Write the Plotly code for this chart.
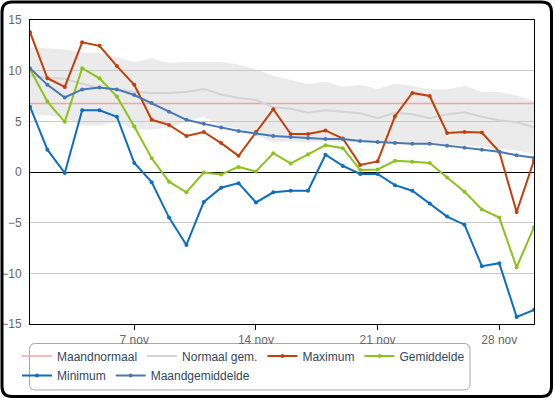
import plotly.graph_objects as go

# ---------------- data ----------------
days = list(range(1, 31))
dates = [f"2010-11-{d:02d}" for d in days]

maximum = [13.8, 9.25, 8.4, 12.8, 12.45, 10.45, 8.6, 5.15, 4.65, 3.55,
           3.95, 2.85, 1.6, 3.95, 6.2, 3.75, 3.75, 4.1, 3.3, 0.7,
           1.05, 5.5, 7.8, 7.5, 3.85, 3.95, 3.9, 2.0, -3.95, 1.15]
gemiddelde = [10.15, 6.95, 4.95, 10.25, 9.25, 7.45, 4.5, 1.35, -0.95, -2.0,
              -0.05, -0.25, 0.5, 0.05, 1.85, 0.85, 1.75, 2.65, 2.35, 0.2,
              0.25, 1.1, 1.0, 0.9, -0.55, -1.95, -3.7, -4.5, -9.4, -5.45]
minimum = [6.45, 2.2, -0.1, 6.1, 6.1, 5.45, 0.9, -1.0, -4.5, -7.2,
           -2.95, -1.55, -1.1, -3.0, -2.0, -1.85, -1.85, 1.7, 0.6, -0.2,
           -0.2, -1.3, -1.85, -3.1, -4.4, -5.2, -9.3, -9.0, -14.3, -13.6]
maandgemiddelde = [10.25, 8.6, 7.35, 8.15, 8.35, 8.15, 7.6, 6.8, 5.95, 5.15,
                   4.75, 4.4, 4.05, 3.8, 3.55, 3.45, 3.35, 3.25, 3.25, 3.05,
                   2.95, 2.85, 2.8, 2.8, 2.6, 2.4, 2.2, 2.0, 1.65, 1.4]
normaal_gem = [9.5, 9.3, 9.2, 8.7, 8.3, 8.2, 7.9, 7.8, 7.8, 7.9,
               8.2, 7.65, 7.3, 7.1, 6.4, 6.25, 5.85, 6.1, 5.95, 5.8,
               5.3, 5.85, 5.7, 5.3, 5.7, 5.9, 5.45, 5.1, 4.9, 4.4]
normaal_hoog = [12.3, 12.2, 12.1, 11.8, 11.75, 11.3, 10.85, 11.2, 10.75, 10.85,
                10.85, 10.85, 10.6, 10.15, 9.5, 9.1, 8.65, 8.9, 8.4, 8.6,
                8.2, 8.7, 8.5, 8.15, 8.15, 8.5, 7.9, 7.9, 7.55, 7.0]
normaal_laag = [5.7, 5.6, 5.4, 4.6, 4.6, 4.9, 4.2, 4.2, 4.4, 4.9,
                5.45, 4.55, 4.3, 3.6, 2.9, 3.0, 2.9, 3.0, 2.9, 3.0,
                2.8, 2.9, 2.8, 2.7, 2.7, 2.6, 2.5, 2.3, 2.1, 1.8]
maandnormaal = 6.75

tick_days = [7, 14, 21, 28]
tick_labels = ["7 nov", "14 nov", "21 nov", "28 nov"]
y_ticks = [-15, -10, -5, 0, 5, 10, 15]

# ---------------- figure ----------------
W, H = 555, 400
L, R, T, B = 30, 21, 20, 76
PW, PH = W - L - R, H - T - B

def pp(px, py):
    return (px - L) / PW, (H - B - py) / PH

def rounded_path(x0, y0, x1, y1, r):
    def P(x, y):
        a, b = pp(x, y)
        return f"{a:.5f},{b:.5f}"
    return (f"M{P(x0 + r, y0)} L{P(x1 - r, y0)} Q{P(x1, y0)} {P(x1, y0 + r)} "
            f"L{P(x1, y1 - r)} Q{P(x1, y1)} {P(x1 - r, y1)} "
            f"L{P(x0 + r, y1)} Q{P(x0, y1)} {P(x0, y1 - r)} "
            f"L{P(x0, y0 + r)} Q{P(x0, y0)} {P(x0 + r, y0)} Z")

fig = go.Figure()

fig.add_trace(go.Scatter(x=dates, y=normaal_laag, mode="lines",
                         line=dict(width=0, color="rgba(0,0,0,0)"),
                         showlegend=False, hoverinfo="skip"))
fig.add_trace(go.Scatter(x=dates, y=normaal_hoog, mode="lines", fill="tonexty",
                         fillcolor="rgba(200,200,200,0.36)",
                         line=dict(width=0, color="rgba(0,0,0,0)"),
                         showlegend=False, hoverinfo="skip"))

fig.add_trace(go.Scatter(x=[dates[0], dates[-1]], y=[maandnormaal, maandnormaal],
                         mode="lines", name="Maandnormaal",
                         line=dict(color="#f4a2a2", width=1.5), legend="legend"))
fig.add_trace(go.Scatter(x=dates, y=normaal_gem, mode="lines", name="Normaal gem.",
                         line=dict(color="#d4d4d4", width=2), legend="legend"))

series = [
    ("Maximum", maximum, "#c0400c", "legend"),
    ("Gemiddelde", gemiddelde, "#8cc21d", "legend"),
    ("Minimum", minimum, "#0d6ebf", "legend2"),
    ("Maandgemiddelde", maandgemiddelde, "#4a76b2", "legend2"),
]
for name, vals, col, lg in series:
    fig.add_trace(go.Scatter(x=dates, y=vals, mode="lines+markers", name=name,
                             line=dict(color=col, width=2),
                             marker=dict(color=col, size=4),
                             legend=lg))

font_ax = dict(family="Liberation Sans, Arial, sans-serif", size=12, color="#666666")
font_lg = dict(family="Liberation Sans, Arial, sans-serif", size=12, color="#34465c")

lx, _ = pp(17, 0)
_, ly1 = pp(0, 356)
_, ly2 = pp(0, 375.5)

legend_common = dict(orientation="h", xanchor="left", yanchor="middle",
                     bgcolor="rgba(0,0,0,0)", borderwidth=0, font=font_lg,
                     itemwidth=30, tracegroupgap=0, traceorder="normal")

fig.update_layout(
    width=W, height=H,
    margin=dict(l=L, r=R, t=T, b=B, autoexpand=False),
    paper_bgcolor="white", plot_bgcolor="white",
    xaxis=dict(type="date", range=[dates[0], dates[-1]],
               tickvals=[dates[d - 1] for d in tick_days], ticktext=tick_labels,
               showgrid=False, zeroline=False,
               showline=True, mirror=True, linecolor="black", linewidth=1,
               ticks="outside", ticklen=5, tickcolor="black", tickwidth=1,
               tickfont=font_ax),
    yaxis=dict(range=[-15, 15], tickvals=y_ticks,
               showgrid=True, gridcolor="#c8c8c8", gridwidth=1,
               zeroline=True, zerolinecolor="black", zerolinewidth=1,
               showline=True, mirror=True, linecolor="black", linewidth=1,
               ticks="", ticklabelstandoff=5, tickfont=font_ax),
    legend=dict(x=lx, y=ly1, **legend_common),
    legend2=dict(x=lx, y=ly2, **legend_common),
    showlegend=True,
    shapes=[
        dict(type="path", xref="paper", yref="paper",
             path=rounded_path(2, 2, 551.5, 396.5, 10),
             line=dict(color="black", width=3), layer="above"),
        dict(type="path", xref="paper", yref="paper",
             path=rounded_path(29.5, 343.5, 470, 390, 6),
             line=dict(color="#a8a8a8", width=1), layer="below"),
    ],
)

fig.write_html("out.html",
               config={"displayModeBar": False},
               post_script="document.body.style.margin='0';"
                           "document.body.style.overflow='hidden';")
